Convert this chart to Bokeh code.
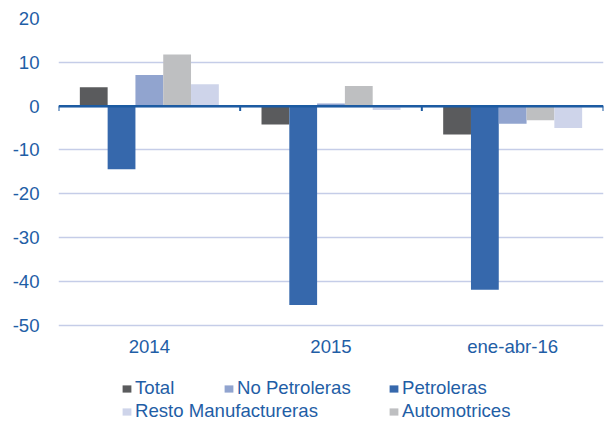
from bokeh.plotting import figure
from bokeh.models import FactorRange, Range1d, Legend, LegendItem, Span, FixedTicker
from bokeh.core.properties import value
from bokeh.transform import dodge
from bokeh.embed import file_html
from bokeh.resources import INLINE

categories = ["2014", "2015", "ene-abr-16"]
total = [4.3, -4.2, -6.5]
petroleras = [-14.4, -45.4, -41.9]
no_petroleras = [7.1, 0.6, -4.0]
automotrices = [11.8, 4.6, -3.2]
resto = [5.0, -0.9, -5.0]
y_ticks = [-50, -40, -30, -20, -10, 0, 10, 20]

series = [
    ("Total", total, "#5A5B5D"),
    ("Petroleras", petroleras, "#3668AC"),
    ("No Petroleras", no_petroleras, "#91A4CF"),
    ("Automotrices", automotrices, "#BEBFC1"),
    ("Resto Manufactureras", resto, "#CED4EA"),
]

TEXT = "#1F5EA6"
FONT = "Liberation Sans"
FS = "18.6px"

# frame extends below the -50 line to hold the category labels and legend
y_bottom = -71.75
p = figure(width=605, height=420, x_range=FactorRange(*categories, range_padding=0),
           y_range=Range1d(y_bottom, y_ticks[-1]), output_backend="svg", toolbar_location=None,
           x_axis_location=None,
           min_border_left=58, min_border_right=2, min_border_top=18, min_border_bottom=0,
           background_fill_color="white", border_fill_color="white")
p.outline_line_color = None

bw = 0.153
renderers = {}
for i, (name, vals, col) in enumerate(series):
    data = {"cat": categories, "v": vals}
    r = p.vbar(x=dodge("cat", (i - 2) * bw, range=p.x_range), top="v", bottom=0,
               width=bw, source=data, fill_color=col, line_color=None)
    renderers[name] = r

# y axis
p.yaxis.ticker = FixedTicker(ticks=y_ticks)
p.yaxis.major_label_overrides = {t: str(t) for t in y_ticks}
p.yaxis.axis_line_color = None
p.yaxis.major_tick_line_color = None
p.yaxis.minor_tick_line_color = None
p.yaxis.major_tick_out = 0
p.yaxis.major_label_standoff = 19
p.yaxis.major_label_text_font = FONT
p.yaxis.major_label_text_font_size = FS
p.yaxis.major_label_text_color = TEXT

p.xgrid.grid_line_color = None
p.ygrid.ticker = FixedTicker(ticks=y_ticks)
p.ygrid.grid_line_color = "#C5CDE8"
p.ygrid.grid_line_width = 1.5

# category labels below the -50 line
p.text(x=categories, y=[y_ticks[0]] * len(categories), text=categories,
       text_align="center", text_baseline="middle", y_offset=21,
       text_font=value(FONT), text_font_size=FS, text_color=TEXT)

# zero line with category boundary ticks
p.add_layout(Span(location=0, dimension="width", line_color="#1C5BA2", line_width=2.5))
bounds = list(range(len(categories) + 1))
p.segment(x0=bounds, y0=[0] * len(bounds), x1=bounds, y1=[-1.1] * len(bounds),
          line_color="#1C5BA2", line_width=2)

# legends positioned like the reference
positions = {
    "Total": (63, 21),
    "No Petroleras": (165, 21),
    "Petroleras": (330, 21),
    "Resto Manufactureras": (63, -2),
    "Automotrices": (330, -2),
}
for name, loc in positions.items():
    lg = Legend(items=[LegendItem(label=name, renderers=[renderers[name]])], location=loc,
                glyph_width=11, glyph_height=9, label_standoff=3, padding=0, margin=0,
                spacing=0, border_line_color=None, background_fill_alpha=0,
                label_text_font=FONT, label_text_font_size=FS, label_text_color=TEXT,
                label_height=20)
    p.add_layout(lg, "center")

open("out.html", "w").write(file_html(p, INLINE))
